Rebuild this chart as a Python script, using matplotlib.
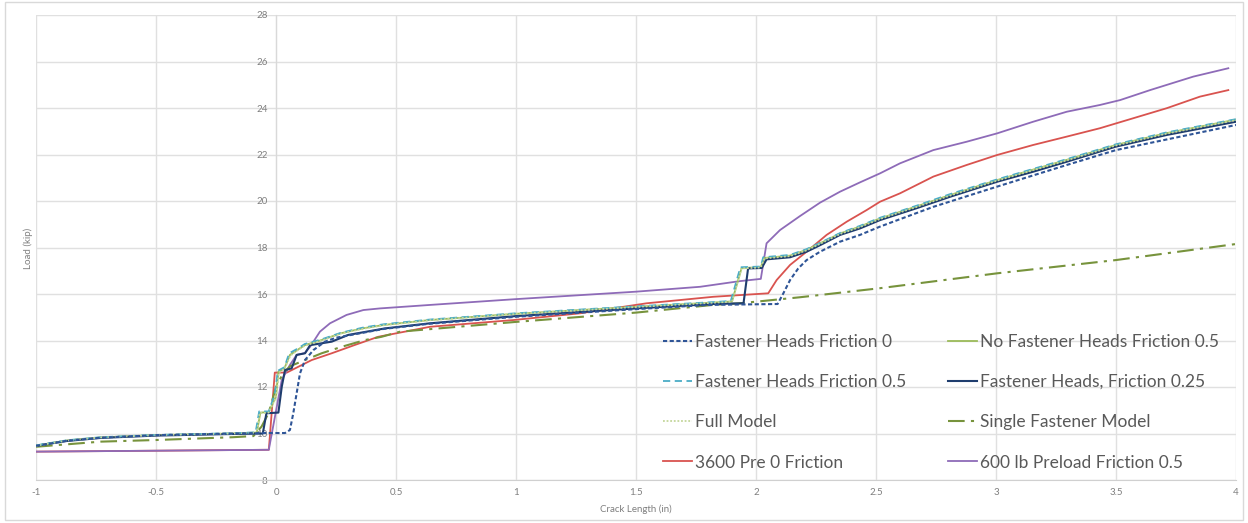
import matplotlib.pyplot as plt
from matplotlib.patches import Rectangle

# %% Donnees (Crack Length en in, Load en kip)
x_fh0 = [-1, -0.87, -0.73, -0.5, -0.18, -0.05, 0.0375, 0.058, 0.072, 0.086, 0.1, 0.121, 0.156,
         0.204, 0.25, 0.45, 0.64, 1.0, 1.5, 1.8, 2.09, 2.114, 2.142, 2.176, 2.211, 2.267, 2.35,
         2.433, 2.517, 2.739, 3.005, 3.295, 3.5, 4.0]
y_fh0 = [9.47, 9.69, 9.82, 9.93, 10.0, 10.02, 10.02, 10.15, 10.87, 11.73, 12.59, 13.16, 13.59,
         13.95, 14.12, 14.5, 14.72, 15.02, 15.35, 15.53, 15.57, 16.03, 16.6, 17.1, 17.46, 17.82,
         18.25, 18.54, 18.9, 19.75, 20.62, 21.55, 22.19, 23.27]

x_nofh05 = [-1, -0.87, -0.73, -0.5, -0.18, -0.08, -0.065, -0.03, 0.0, 0.01, 0.035, 0.058, 0.09,
            0.12, 0.19, 0.27, 0.36, 0.45, 0.64, 1.0, 1.5, 1.82, 1.9, 1.94, 2.02, 2.035, 2.142,
            2.211, 2.267, 2.35, 2.433, 2.517, 2.67, 2.81, 3.005, 3.295, 3.5, 3.711, 4.0]
y_nofh05 = [9.48, 9.7, 9.83, 9.93, 10.0, 10.04, 10.9, 10.92, 11.6, 12.66, 12.8, 13.38, 13.6,
            13.8, 14.02, 14.31, 14.52, 14.67, 14.88, 15.15, 15.45, 15.63, 15.68, 17.12, 17.15, 17.55,
            17.65, 17.9, 18.18, 18.6, 18.9, 19.25, 19.77, 20.26, 20.9, 21.77, 22.41, 22.92, 23.5]

x_fh05 = [-1, -0.87, -0.73, -0.5, -0.18, -0.085, -0.07, -0.03, -0.005, 0.008, 0.035, 0.055, 0.09,
          0.12, 0.19, 0.27, 0.36, 0.45, 0.64, 1.0, 1.5, 1.82, 1.895, 1.935, 2.02, 2.03, 2.142,
          2.211, 2.267, 2.35, 2.433, 2.517, 2.67, 2.81, 3.005, 3.295, 3.5, 3.711, 4.0]
y_fh05 = [9.49, 9.71, 9.84, 9.94, 10.01, 10.05, 10.95, 10.95, 11.7, 12.7, 12.85, 13.45, 13.65,
          13.85, 14.05, 14.33, 14.55, 14.7, 14.9, 15.17, 15.47, 15.65, 15.7, 17.15, 17.18, 17.58,
          17.68, 17.93, 18.2, 18.62, 18.93, 19.28, 19.8, 20.3, 20.93, 21.8, 22.44, 22.95, 23.52]

x_fh025 = [-1, -0.87, -0.73, -0.5, -0.18, -0.055, -0.04, 0.01, 0.024, 0.0375, 0.065, 0.086, 0.121,
           0.142, 0.232, 0.301, 0.454, 0.642, 1.0, 1.5, 1.82, 1.948, 1.967, 2.024, 2.044, 2.142,
           2.211, 2.267, 2.35, 2.433, 2.517, 2.669, 2.808, 3.005, 3.155, 3.295, 3.5, 3.711, 4.0]
y_fh025 = [9.47, 9.68, 9.81, 9.91, 9.98, 10.0, 10.87, 10.9, 12.01, 12.73, 12.8, 13.38, 13.45,
           13.8, 13.95, 14.24, 14.52, 14.74, 15.05, 15.38, 15.57, 15.6, 17.1, 17.12, 17.49, 17.58,
           17.82, 18.1, 18.54, 18.82, 19.18, 19.69, 20.18, 20.83, 21.26, 21.69, 22.34, 22.84, 23.41]

x_full = [-1, -0.87, -0.73, -0.5, -0.18, -0.08, -0.068, -0.03, 0.0, 0.012, 0.035, 0.06, 0.09,
          0.12, 0.19, 0.27, 0.36, 0.45, 0.64, 1.0, 1.5, 1.82, 1.9, 1.94, 2.02, 2.035, 2.142,
          2.211, 2.267, 2.35, 2.433, 2.517, 2.67, 2.81, 3.005, 3.295, 3.5, 3.711, 4.0]
y_full = [9.47, 9.7, 9.83, 9.93, 10.0, 10.04, 10.88, 10.9, 11.55, 12.62, 12.78, 13.35, 13.58,
          13.78, 14.0, 14.3, 14.5, 14.66, 14.87, 15.14, 15.44, 15.62, 15.67, 17.1, 17.14, 17.53,
          17.63, 17.88, 18.16, 18.58, 18.88, 19.23, 19.75, 20.24, 20.88, 21.75, 22.39, 22.9, 23.48]

x_single = [-1, -0.73, -0.5, -0.18, -0.094, -0.06, -0.03, 0.0, 0.03, 0.06, 0.121, 0.19, 0.274,
            0.371, 0.44, 0.517, 1.0, 1.5, 1.82, 1.933, 2.183, 2.517, 3.005, 3.5, 4.0]
y_single = [9.43, 9.65, 9.72, 9.84, 9.89, 10.3, 10.9, 12.0, 12.6, 12.9, 13.16, 13.45, 13.73,
            14.02, 14.16, 14.38, 14.8, 15.2, 15.53, 15.6, 15.86, 16.25, 16.89, 17.46, 18.15]

x_pre3600 = [-1, -0.5, -0.03, -0.005, 0.045, 0.093, 0.149, 0.232, 0.329, 0.426, 0.642, 0.989,
             1.267, 1.544, 1.822, 2.051, 2.086, 2.142, 2.211, 2.294, 2.378, 2.461, 2.517, 2.6,
             2.739, 2.878, 3.005, 3.155, 3.295, 3.433, 3.572, 3.711, 3.85, 3.968]
y_pre3600 = [9.22, 9.26, 9.3, 12.62, 12.62, 12.87, 13.16, 13.45, 13.81, 14.16, 14.59, 14.88,
             15.17, 15.6, 15.88, 16.03, 16.6, 17.25, 17.82, 18.54, 19.11, 19.61, 19.97, 20.33,
             21.05, 21.55, 21.98, 22.41, 22.77, 23.13, 23.56, 23.99, 24.49, 24.77]

x_pl600 = [-1, -0.5, -0.03, 0.024, 0.058, 0.086, 0.12, 0.142, 0.183, 0.225, 0.294, 0.364, 0.433,
           0.642, 1.0, 1.5, 1.767, 1.93, 2.02, 2.044, 2.1, 2.183, 2.267, 2.35, 2.433, 2.517, 2.6,
           2.739, 2.878, 3.005, 3.155, 3.295, 3.433, 3.517, 3.642, 3.822, 3.968]
y_pl600 = [9.22, 9.26, 9.3, 12.3, 12.95, 13.38, 13.46, 13.73, 14.38, 14.74, 15.1, 15.31, 15.38,
           15.53, 15.78, 16.1, 16.31, 16.55, 16.65, 18.18, 18.75, 19.35, 19.93, 20.4, 20.8, 21.19,
           21.62, 22.19, 22.55, 22.91, 23.41, 23.84, 24.13, 24.34, 24.77, 25.35, 25.71]

labels = ['Fastener Heads Friction 0', 'No Fastener Heads Friction 0.5',
          'Fastener Heads Friction 0.5', 'Fastener Heads, Friction 0.25',
          'Full Model', 'Single Fastener Model',
          '3600 Pre 0 Friction', '600 lb Preload Friction 0.5']

# %% Figure
plt.rcParams['font.family'] = ['Lato', 'DejaVu Sans']
fig = plt.figure(figsize=(12.48, 5.23), dpi=100)
ax = fig.add_axes([36 / 1248, 1 - 480 / 523, 1200 / 1248, 465 / 523])

l_fh0, = ax.plot(x_fh0, y_fh0, color='#2F5597', lw=1.5, ls=(0, (2, 1.2)), zorder=9)
l_nofh, = ax.plot(x_nofh05, y_nofh05, color='#9BBB59', lw=1.3, zorder=5)
l_fh05, = ax.plot(x_fh05, y_fh05, color='#4BACC6', lw=1.3, ls=(0, (4, 2.5)), zorder=7)
l_fh025, = ax.plot(x_fh025, y_fh025, color='#1F3D6E', lw=1.5, zorder=6)
l_full, = ax.plot(x_full, y_full, color='#C4D79B', lw=1.3, ls=(0, (1, 1)), zorder=8)
l_single, = ax.plot(x_single, y_single, color='#77933C', lw=1.5, ls=(0, (8, 3, 1.5, 3)), zorder=4)
l_pre, = ax.plot(x_pre3600, y_pre3600, color='#D9534F', lw=1.3, zorder=3)
l_pl, = ax.plot(x_pl600, y_pl600, color='#8E6BB8', lw=1.3, zorder=3)

ax.set_xlim(-1, 4)
ax.set_ylim(8, 28)
ax.set_xticks([-1, -0.5, 0, 0.5, 1, 1.5, 2, 2.5, 3, 3.5, 4])
ax.set_xticklabels(['-1', '-0.5', '0', '0.5', '1', '1.5', '2', '2.5', '3', '3.5', '4'])
ax.set_yticks(range(8, 29, 2))
ax.grid(True, color='#E0E0E0', lw=1)
ax.set_axisbelow(True)

for s in ['top', 'right']:
    ax.spines[s].set_visible(False)
ax.spines['left'].set_position(('data', 0))
ax.spines['left'].set_color('#D9D9D9')
ax.spines['bottom'].set_color('#D0D0D0')
ax.tick_params(length=0, labelsize=7, colors='#7F7F7F', pad=6)

ax.set_xlabel('Crack Length (in)', fontsize=7, color='#7F7F7F', labelpad=5)
fig.text(28 / 1248, 1 - 248 / 523, 'Load (kip)', rotation=90, fontsize=7,
         color='#7F7F7F', ha='center', va='center')

handles = [l_fh0, l_fh05, l_full, l_pre, l_nofh, l_fh025, l_single, l_pl]
leg_labels = [labels[0], labels[2], labels[4], labels[6],
              labels[1], labels[3], labels[5], labels[7]]
ax.legend(handles, leg_labels, ncol=2, loc='upper left',
          bbox_to_anchor=(647 / 1248, 1 - 318 / 523), bbox_transform=fig.transFigure,
          frameon=False, fontsize=12.5, labelcolor='#595959', handlelength=1.7,
          handletextpad=0.15, labelspacing=1.4, columnspacing=2.4)

fig.patches.append(Rectangle((0.004, 0.006), 0.992, 0.99, transform=fig.transFigure,
                             fill=False, edgecolor='#D9D9D9', lw=1))

fig.savefig('out.png', dpi=100)
